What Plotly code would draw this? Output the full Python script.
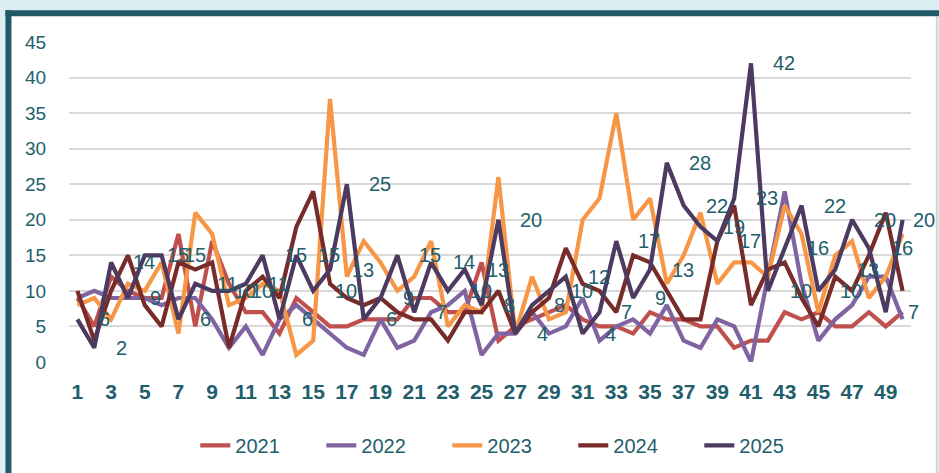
import plotly.graph_objects as go

# ---------------- data ----------------
weeks = list(range(1, 51))
series_names = ["2021", "2022", "2023", "2024", "2025"]

v2021 = [9, 5, 12, 10, 9, 9, 18, 5, 17, 11,
         7, 7, 4, 9, 7, 5, 5, 6, 6, 6,
         9, 9, 7, 7, 14, 3, 5, 6, 7, 8,
         6, 5, 5, 4, 7, 6, 6, 5, 5, 2,
         3, 3, 7, 6, 7, 5, 5, 7, 5, 7]
v2022 = [9, 10, 9, 9, 9, 8, 9, 9, 6, 2,
         5, 1, 6, 8, 6, 4, 2, 1, 6, 2,
         3, 7, 8, 10, 1, 4, 4, 7, 4, 5,
         9, 3, 5, 6, 4, 8, 3, 2, 6, 5,
         0, 12, 24, 11, 3, 6, 8, 12, 12, 6]
v2023 = [8, 9, 6, 11, 10, 14, 4, 21, 18, 8,
         9, 11, 10, 1, 3, 37, 12, 17, 14, 10,
         12, 17, 5, 8, 7, 26, 4, 12, 6, 7,
         20, 23, 35, 20, 23, 11, 15, 21, 11, 14,
         14, 12, 22, 18, 7, 15, 17, 9, 12, 18]
v2024 = [10, 3, 10, 15, 8, 5, 14, 13, 14, 2,
         10, 12, 9, 19, 24, 11, 9, 8, 9, 7,
         6, 6, 3, 7, 7, 10, 4, 7, 9, 16,
         11, 10, 7, 15, 14, 10, 6, 6, 17, 22,
         8, 13, 14, 9, 5, 12, 10, 15, 21, 10]
v2025 = [6, 2, 14, 9, 15, 15, 6, 11, 10, 10,
         11, 15, 6, 15, 10, 13, 25, 6, 9, 15,
         7, 14, 10, 13, 8, 20, 4, 8, 10, 12,
         4, 7, 17, 9, 13, 28, 22, 19, 17, 23,
         42, 10, 16, 22, 10, 13, 20, 16, 7, 20]

y_ticks = [0, 5, 10, 15, 20, 25, 30, 35, 40, 45]
x_ticks = weeks[::2]

# ---------------- styles ----------------
colors = ["#C0504D", "#8064A2", "#F79646", "#772C2A", "#4D3A60"]
TEXT = "#225E6C"
LABEL_FONT = "Liberation Sans Narrow, Liberation Sans, Arial, sans-serif"
SANS = "Liberation Sans, Arial, sans-serif"

W, H = 939, 473
L, R, T, B = 68.6, 27.6, 41.7, 111.3
PW, PH = W - L - R, H - T - B


def px(x):
    return (x - L) / PW


def py(y):
    return (H - B - y) / PH


fig = go.Figure()
for name, vals, col in zip(series_names, [v2021, v2022, v2023, v2024, v2025], colors):
    fig.add_trace(go.Scatter(
        x=weeks, y=vals, name=name, mode="lines",
        line=dict(color=col, width=4.2),
    ))

# data labels of the 2025 series (placed to the right of each point;
# the last one is pulled in so it stays inside the chart box)
for i, (w, v) in enumerate(zip(weeks, v2025)):
    fig.add_annotation(
        x=w, y=v, text=str(v), showarrow=False,
        xanchor="left", yanchor="middle",
        xshift=8 if i == len(weeks) - 1 else 20,
        font=dict(family=LABEL_FONT, size=20, color=TEXT),
    )

shapes = [
    # white chart box
    dict(type="rect", xref="paper", yref="paper", layer="below",
         x0=px(8), x1=px(937), y0=py(H + 5), y1=py(13),
         fillcolor="white", line=dict(width=0)),
    # dark teal left border
    dict(type="rect", xref="paper", yref="paper", layer="below",
         x0=px(5), x1=px(11), y0=py(H + 5), y1=py(10),
         fillcolor="#215968", line=dict(width=0)),
    # dark teal top border
    dict(type="rect", xref="paper", yref="paper", layer="below",
         x0=px(5), x1=px(W + 5), y0=py(16), y1=py(10),
         fillcolor="#215968", line=dict(width=0)),
    # thin right border
    dict(type="line", xref="paper", yref="paper", layer="below",
         x0=px(937), x1=px(937), y0=py(H + 5), y1=py(16),
         line=dict(color="#D0D0D0", width=1.5)),
]

fig.update_layout(
    width=W, height=H,
    margin=dict(l=L, r=R, t=T, b=B, pad=0, autoexpand=False),
    paper_bgcolor="#DAEEF3",
    plot_bgcolor="white",
    shapes=shapes,
    showlegend=True,
    legend=dict(
        orientation="h", xanchor="left", yanchor="middle",
        x=px(195), y=py(445),
        entrywidth=81, entrywidthmode="pixels",
        font=dict(family=LABEL_FONT, size=20, color=TEXT),
        bgcolor="rgba(0,0,0,0)",
    ),
    xaxis=dict(
        range=[0.5, 50.5], tickmode="array", tickvals=x_ticks,
        ticktext=[str(t) for t in x_ticks],
        showgrid=False, zeroline=False, showline=False,
        ticks="outside", ticklen=11, tickcolor="rgba(0,0,0,0)",
        tickfont=dict(family=SANS, size=21, color=TEXT, weight="bold"),
        fixedrange=True,
    ),
    yaxis=dict(
        range=[0, 45], tickmode="array", tickvals=y_ticks,
        showgrid=True, gridcolor="#D9D9D9", gridwidth=1.6,
        zeroline=False, showline=False,
        ticks="outside", ticklen=18, tickcolor="rgba(0,0,0,0)",
        tickfont=dict(family=SANS, size=19, color=TEXT),
        fixedrange=True,
    ),
)

fig.write_html(
    "out.html",
    config={"displayModeBar": False},
    post_script="document.body.style.margin='0';document.body.style.overflow='hidden';",
)
